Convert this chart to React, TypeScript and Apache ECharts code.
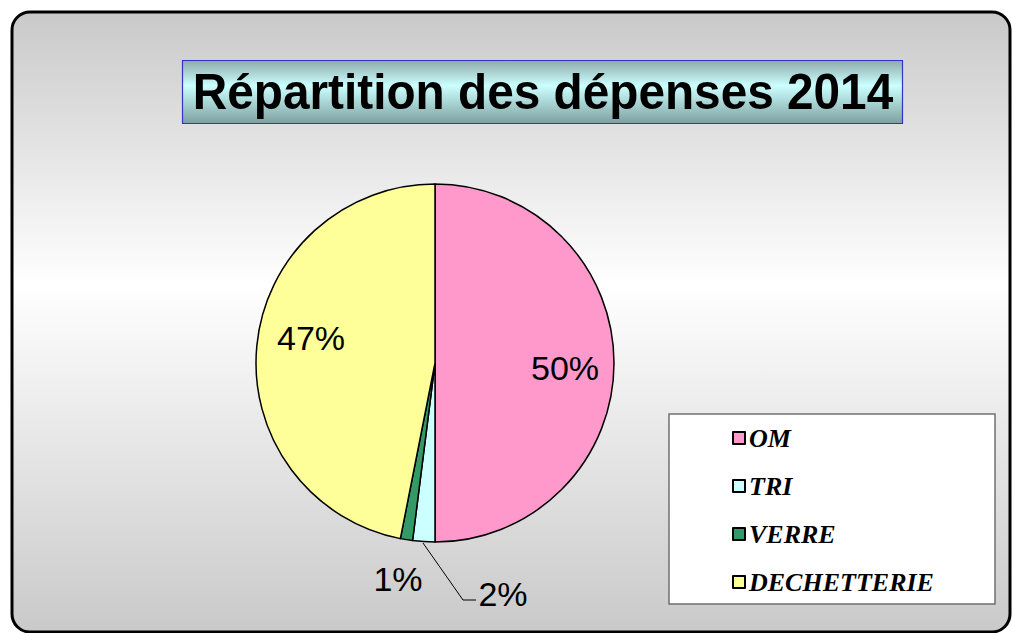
import React, { useEffect, useRef } from "react";
import * as echarts from "echarts";

const title = "Répartition des dépenses 2014";
const categories = ["OM", "TRI", "VERRE", "DECHETTERIE"];
const values = [50.0, 2.0, 1.1, 46.9];
const colors = ["#ff99cc", "#ccffff", "#339966", "#ffff99"];

// label anchor positions (layout only)
const LABEL_POS: number[][] = [
  [565, 368],
  [503, 594],
  [398, 579],
  [311, 338],
];

export default function App() {
  const ref = useRef<HTMLDivElement>(null);
  useEffect(() => {
    if (!ref.current) return;
    const chart = echarts.init(ref.current, null, { renderer: "svg" });
    const labelFont = {
      fontFamily: "'Liberation Sans', Arial, sans-serif",
      fontSize: 34,
      color: "#000",
    };
    chart.setOption({
      animation: false,
      backgroundColor: "#ffffff",
      graphic: [
        {
          type: "rect",
          z: 0,
          shape: { x: 12, y: 12, width: 998, height: 620, r: 18 },
          style: {
            fill: {
              type: "linear",
              x: 0,
              y: 0,
              x2: 0,
              y2: 1,
              colorStops: [
                { offset: 0, color: "#c9c9c9" },
                { offset: 0.44, color: "#ffffff" },
                { offset: 1, color: "#c9c9c9" },
              ],
            },
            stroke: "#000",
            lineWidth: 3,
          },
        },
        {
          type: "rect",
          z: 1,
          shape: { x: 182.5, y: 60.5, width: 720, height: 63 },
          style: {
            fill: {
              type: "linear",
              x: 0,
              y: 0,
              x2: 0,
              y2: 1,
              colorStops: [
                { offset: 0, color: "#8eaaaa" },
                { offset: 0.4, color: "#ccffff" },
                { offset: 1, color: "#7f9f9f" },
              ],
            },
            stroke: "#3333cc",
            lineWidth: 1.2,
          },
        },
        {
          type: "text",
          z: 2,
          x: 543,
          y: 92,
          scaleX: 0.955,
          style: {
            text: title,
            fill: "#000",
            font: "bold 50px 'Liberation Sans', Arial, sans-serif",
            align: "center",
            verticalAlign: "middle",
          },
        },
        {
          type: "rect",
          z: 1,
          shape: { x: 669, y: 414, width: 326, height: 190 },
          style: { fill: "#ffffff", stroke: "#707070", lineWidth: 1.5 },
        },
      ],
      legend: {
        orient: "vertical",
        left: 732,
        top: 425,
        padding: 0,
        itemGap: 22,
        itemWidth: 12,
        itemHeight: 12,
        icon: "rect",
        selectedMode: false,
        data: categories,
        itemStyle: { borderColor: "#000", borderWidth: 2 },
        textStyle: {
          fontFamily: "'Liberation Serif', 'Times New Roman', serif",
          fontStyle: "italic",
          fontWeight: "bold",
          fontSize: 26,
          lineHeight: 26,
          color: "#000",
          padding: [0, 0, 0, -1],
        },
      },
      series: [
        {
          type: "pie",
          center: [435, 363],
          radius: 179,
          startAngle: 90,
          clockwise: true,
          percentPrecision: 0,
          silent: true,
          label: {
            show: true,
            position: "inside",
            formatter: "{d}%",
            ...labelFont,
          },
          labelLine: { show: false },
          itemStyle: { borderColor: "#000", borderWidth: 1.5 },
          labelLayout: (params: any) => {
            const i = params.dataIndex;
            const p = LABEL_POS[i];
            const res: any = {
              x: p[0],
              y: p[1],
              align: "center",
              verticalAlign: "middle",
            };
            if (i === 1) {
              res.labelLinePoints = [
                [423, 543],
                [463, 600],
                [476, 600],
              ];
            }
            return res;
          },
          data: categories.map((name, i) => {
            const item: any = {
              name,
              value: values[i],
              itemStyle: { color: colors[i] },
            };
            if (i === 1) {
              item.label = { position: "outside" };
              item.labelLine = {
                show: true,
                length: 20,
                length2: 10,
                lineStyle: { color: "#000", width: 1 },
              };
            }
            if (i === 2) {
              item.label = { position: "outside" };
              item.labelLine = { show: false };
            }
            return item;
          }),
        },
      ],
    });
    return () => chart.dispose();
  }, []);
  return (
    <div
      ref={ref}
      style={{ position: "absolute", left: 0, top: 0, width: 1013, height: 633 }}
    />
  );
}
